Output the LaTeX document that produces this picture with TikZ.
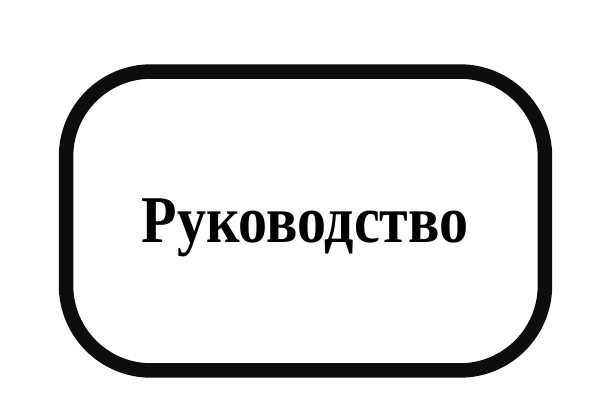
\documentclass[tikz,border=0pt]{standalone}
\usepackage{fontspec}
\usepackage{graphicx}
\setmainfont{Liberation Serif}
\usetikzlibrary{positioning}

\begin{document}
\begin{tikzpicture}[x=0.02cm,y=-0.02cm]
            \tikzstyle{frame}=[rectangle,draw=black!95,line width=0.29cm,rounded corners=1.7cm,minimum width=9.58cm,minimum height=5.98cm,inner sep=0pt]
            \tikzstyle{title}=[font=\fontsize{38}{45}\selectfont\bfseries,inner sep=0pt,anchor=base]

            \useasboundingbox (0,0) rectangle (600,420);
            \node [frame] (box) at (305.5,221) {};   %outer box
            \node [title] (lbl) at (305,242) {\scalebox{0.87}[1]{Руководство}}; %label
        \end{tikzpicture}
\end{document}
